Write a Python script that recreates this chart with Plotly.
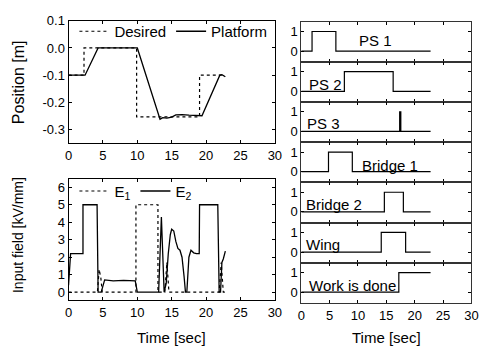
import plotly.graph_objects as go

# ---------------- data ----------------
t_desired = [0, 2.25, 2.25, 9.9, 9.9, 19.05, 19.05, 22.4]
pos_desired = [-0.1, -0.1, 0.0, 0.0, -0.253, -0.253, -0.1, -0.1]

t_platform = [0, 2.4, 4.3, 10.0, 13.3, 13.7, 14.3, 15.0, 15.6, 16.5, 17.5, 18.5, 19.4, 22.0, 22.3, 22.8]
pos_platform = [-0.1, -0.1, 0.0, 0.0, -0.262, -0.256, -0.258, -0.254, -0.246, -0.245, -0.247, -0.249, -0.249, -0.1, -0.098, -0.106]

t_e1 = [0, 4.2, 4.45, 4.7, 4.9, 9.8, 9.8, 13.0, 13.0, 14.0, 14.3, 14.6, 21.9, 22.2, 22.5, 22.8]
e1 = [0, 0, 1.3, 0.8, 0, 0, 5, 5, 0, 0, 1.7, 0, 0, 1.7, 0, 0]

t_e2 = [0, 0.3, 2.1, 2.1, 4.15, 4.3, 4.75, 5.25, 6.5, 8.0, 9.7, 10.0, 13.1, 13.5, 13.9, 14.2, 14.5, 14.8, 15.0,
        15.3, 15.6, 15.9, 16.2, 16.5, 16.8, 17.0, 17.2, 17.5, 17.8, 18.2, 18.6, 19.0, 19.05, 21.7, 21.9, 22.1,
        22.3, 22.5, 22.8]
e2 = [0.4, 2.2, 2.2, 5.0, 5.0, 0.0, 0.0, 0.7, 0.65, 0.68, 0.65, 0.0, 0.0, 4.3, 0.0, 0.5, 2.2, 3.3, 3.6,
      3.5, 2.9, 2.5, 2.4, 2.0, 0.9, 0.0, 0.0, 2.0, 2.4, 2.25, 2.2, 2.2, 5.0, 5.0, 0.0, 0.0,
      1.7, 1.9, 2.35]

state_names = ["PS 1", "PS 2", "PS 3", "Bridge 1", "Bridge 2", "Wing", "Work is done"]
ps1_t = [0, 1.9, 6.1, 22.8]
ps1_v = [0, 1, 0, 0]
ps2_t = [0, 7.6, 16.2, 22.8]
ps2_v = [0, 1, 0, 0]
ps3_t = [0, 17.35, 17.55, 22.8]
ps3_v = [0, 1, 0, 0]
bridge1_t = [0, 4.8, 9.0, 22.8]
bridge1_v = [0, 1, 0, 0]
bridge2_t = [0, 14.65, 18.0, 22.8]
bridge2_v = [0, 1, 0, 0]
wing_t = [0, 14.1, 18.4, 22.8]
wing_v = [0, 1, 0, 0]
work_t = [0, 17.2, 22.8]
work_v = [0, 1, 1]

state_series = [(ps1_t, ps1_v), (ps2_t, ps2_v), (ps3_t, ps3_v), (bridge1_t, bridge1_v),
                (bridge2_t, bridge2_v), (wing_t, wing_v), (work_t, work_v)]
# label placement (data coords in each panel)
label_x = [13.0, 4.2, 4.0, 15.6, 5.7, 3.9, 9.0]
label_y = [0.55, 0.35, 0.4, 0.3, 0.35, 0.4, 0.35]

time_ticks = [0, 5, 10, 15, 20, 25, 30]
pos_ticks = [0.1, 0.0, -0.1, -0.2, -0.3]
pos_ticktext = ["0.1", "0.0", "-0.1", "-0.2", "-0.3"]
field_ticks = [0, 1, 2, 3, 4, 5, 6]

# ---------------- layout geometry ----------------
W, H = 497, 352
FONT = "Liberation Sans, Arial, sans-serif"
xL = [66 / W, 277 / W]
xR = [304 / W, 478 / W]
yTop = [1 - 139 / H, 1 - 14 / H]
yBot = [1 - 299 / H, 1 - 175 / H]
rb = [15, 56, 97, 138, 179, 220, 261, 302]

fig = go.Figure()

fig.add_trace(go.Scatter(x=t_desired, y=pos_desired, mode="lines", name="Desired",
                         line=dict(color="black", width=1.2, dash="dot"), xaxis="x", yaxis="y", legend="legend"))
fig.add_trace(go.Scatter(x=t_platform, y=pos_platform, mode="lines", name="Platform",
                         line=dict(color="black", width=1.3), xaxis="x", yaxis="y", legend="legend"))
fig.add_trace(go.Scatter(x=t_e1, y=e1, mode="lines", name="E<sub>1</sub>",
                         line=dict(color="black", width=1.2, dash="dot"), xaxis="x2", yaxis="y2", legend="legend2"))
fig.add_trace(go.Scatter(x=t_e2, y=e2, mode="lines", name="E<sub>2</sub>",
                         line=dict(color="black", width=1.3), xaxis="x2", yaxis="y2", legend="legend2"))

axis_common = dict(showline=True, linecolor="black", linewidth=1, mirror="ticks", ticks="inside",
                   ticklen=3, tickcolor="black", showgrid=False, zeroline=False,
                   tickfont=dict(family=FONT, size=13, color="black"))

leg_font = dict(family=FONT, size=15, color="black")
layout = dict(
    width=W, height=H, margin=dict(l=0, r=0, t=0, b=0),
    paper_bgcolor="white", plot_bgcolor="white",
    font=dict(family=FONT, size=13, color="black"),
    xaxis=dict(domain=xL, anchor="y", range=[0, 30], tickvals=time_ticks, **axis_common),
    yaxis=dict(domain=yTop, anchor="x", range=[-0.35, 0.1], tickvals=pos_ticks, ticktext=pos_ticktext,
               **axis_common),
    xaxis2=dict(domain=xL, anchor="y2", range=[0, 30], tickvals=time_ticks, **axis_common),
    yaxis2=dict(domain=yBot, anchor="x2", range=[-0.45, 6.5], tickvals=field_ticks, **axis_common),
    legend=dict(orientation="h", x=xL[0] + 6 / W, y=1 - 25 / H, xanchor="left", yanchor="middle",
                bgcolor="rgba(0,0,0,0)", borderwidth=0, font=leg_font, itemwidth=30),
    legend2=dict(orientation="h", x=xL[0] + 6 / W, y=1 - 188 / H, xanchor="left", yanchor="middle",
                 bgcolor="rgba(0,0,0,0)", borderwidth=0, font=leg_font, itemwidth=30),
    showlegend=True,
)

title_font = dict(family=FONT, size=15, color="black")
annotations = [
    dict(text="Position [m]", x=15 / W, y=1 - 77 / H, xref="paper", yref="paper", textangle=-90,
         xanchor="center", yanchor="middle", showarrow=False,
         font=dict(family=FONT, size=16, color="black")),
    dict(text="Input field [kV/mm]", x=15 / W, y=1 - 233 / H, xref="paper", yref="paper", textangle=-90,
         xanchor="center", yanchor="middle", showarrow=False,
         font=dict(family=FONT, size=14, color="black")),
    dict(text="Time [sec]", x=(xL[0] + xL[1]) / 2, y=1 - 337 / H, xref="paper", yref="paper",
         xanchor="center", yanchor="middle", showarrow=False, font=title_font),
    dict(text="Time [sec]", x=(xR[0] + xR[1]) / 2, y=1 - 337 / H, xref="paper", yref="paper",
         xanchor="center", yanchor="middle", showarrow=False, font=title_font),
]

for i, (name, (tt, vv)) in enumerate(zip(state_names, state_series)):
    n = i + 3
    xa, ya = f"x{n}", f"y{n}"
    fig.add_trace(go.Scatter(x=tt, y=vv, mode="lines", line=dict(color="black", width=1.2, shape="hv"),
                             xaxis=xa, yaxis=ya, showlegend=False))
    last = (i == len(state_names) - 1)
    rc = dict(axis_common)
    rc["linecolor"] = "#333"
    layout[f"xaxis{n}"] = dict(domain=xR, anchor=ya, range=[0, 30], tickvals=time_ticks,
                               showticklabels=last, **rc)
    layout[f"yaxis{n}"] = dict(domain=[1 - rb[i + 1] / H, 1 - rb[i] / H], anchor=xa, range=[-0.55, 1.5],
                               tickvals=[0, 1], **rc)
    annotations.append(dict(text=name, x=label_x[i], y=label_y[i], xref=xa, yref=ya, showarrow=False,
                            xanchor="center", yanchor="middle",
                            font=dict(family=FONT, size=15, color="black")))

layout["annotations"] = annotations
fig.update_layout(**layout)
fig.write_html("out.html", config={"displayModeBar": False},
               post_script="document.body.style.margin='0';")
